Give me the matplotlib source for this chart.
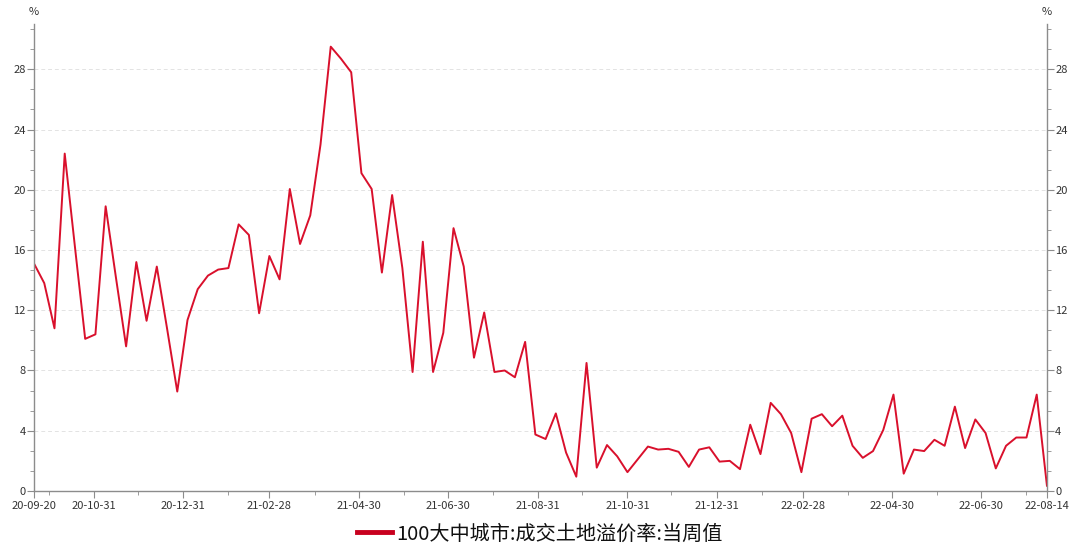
import matplotlib
matplotlib.use("Agg")
import matplotlib.pyplot as plt
import numpy as np
import pandas as pd

plt.rcParams['font.family'] = ['Noto Sans CJK SC', 'DejaVu Sans']

# weekly land premium rate of 100 cities, %
start_date = "2020-09-20"
end_date = "2022-08-14"
premium = [
    15.1, 13.8, 10.8, 22.4, 16.2, 10.1, 10.4, 18.9, 14.2, 9.6,
    15.2, 11.3, 14.9, 10.8, 6.6, 11.35, 13.4, 14.3, 14.7, 14.8,
    17.7, 17.0, 11.8, 15.6, 14.05, 20.05, 16.4, 18.3, 23.0, 29.5,
    28.7, 27.8, 21.1, 20.05, 14.5, 19.65, 14.8, 7.9, 16.55, 7.9,
    10.5, 17.45, 14.9, 8.85, 11.85, 7.9, 8.0, 7.55, 9.9, 3.75,
    3.45, 5.15, 2.55, 0.95, 8.5, 1.55, 3.05, 2.3, 1.25, 2.1,
    2.95, 2.75, 2.8, 2.6, 1.6, 2.75, 2.9, 1.95, 2.0, 1.45,
    4.4, 2.45, 5.85, 5.1, 3.85, 1.25, 4.8, 5.1, 4.3, 5.0,
    3.0, 2.2, 2.65, 4.05, 6.4, 1.15, 2.75, 2.65, 3.4, 3.0,
    5.6, 2.85, 4.75, 3.85, 1.5, 3.0, 3.55, 3.55, 6.4, 0.35,
]
label_dates = ["2020-09-20", "2020-10-31", "2020-12-31", "2021-02-28", "2021-04-30",
               "2021-06-30", "2021-08-31", "2021-10-31", "2021-12-31", "2022-02-28",
               "2022-04-30", "2022-06-30", "2022-08-14"]
minor_dates = ["2020-09-30", "2020-11-30", "2021-01-31", "2021-03-31", "2021-05-31",
               "2021-07-31", "2021-09-30", "2021-11-30", "2022-01-31", "2022-03-31",
               "2022-05-31", "2022-07-31"]
series_name = "100大中城市:成交土地溢价率:当周值"

dates = pd.date_range(start_date, end_date, freq="7D")

line_color = '#D9102C'
axis_color = '#8c8c8c'
text_color = '#333333'

fig = plt.figure(figsize=(10.8, 5.47), dpi=100)
ax = fig.add_axes([0.0315, 0.1024, 0.9379, 0.8536])

ax.plot(dates, premium, color=line_color, linewidth=1.4, label=series_name)

ax.set_xlim(pd.Timestamp(start_date), pd.Timestamp(end_date))
ax.set_ylim(0, 31)

major_x = pd.to_datetime(label_dates)
ax.set_xticks(major_x)
ax.set_xticklabels([d.strftime("%y-%m-%d") for d in major_x])
ax.set_xticks(pd.to_datetime(minor_dates), minor=True)

yt = np.arange(0, 29, 4)
ax.set_yticks(yt)
ax.set_yticks(np.arange(0, 31, 4 / 3), minor=True)

ax.spines['top'].set_visible(False)
for s in ['left', 'right', 'bottom']:
    ax.spines[s].set_color(axis_color)
    ax.spines[s].set_linewidth(1.0)

ax.tick_params(axis='both', which='both', colors=axis_color, labelcolor=text_color,
               labelsize=8, direction='out')
ax.tick_params(axis='y', which='major', length=5, pad=1)
ax.tick_params(axis='y', which='minor', length=3)
ax.tick_params(axis='x', which='major', length=5, pad=2)
ax.tick_params(axis='x', which='minor', length=3)
ax.tick_params(axis='y', which='both', left=True, right=True, labelleft=True, labelright=True)

for y in yt[1:]:
    ax.axhline(y, color='#e3e3e3', linewidth=0.7, linestyle=(0, (4, 3)), zorder=0)

fig.text(0.031, 0.978, "%", fontsize=8, color=text_color, ha='center', va='center')
fig.text(0.969, 0.978, "%", fontsize=8, color=text_color, ha='center', va='center')

leg = fig.legend(loc='center', bbox_to_anchor=(0.5, 0.024), frameon=False,
                 fontsize=14.5, handlelength=1.75, handletextpad=0.2)
for h in leg.get_lines():
    h.set_linewidth(3.5)
    h.set_color('#C8001E')
for t in leg.get_texts():
    t.set_color('#111111')

fig.savefig("out.png", dpi=100)
